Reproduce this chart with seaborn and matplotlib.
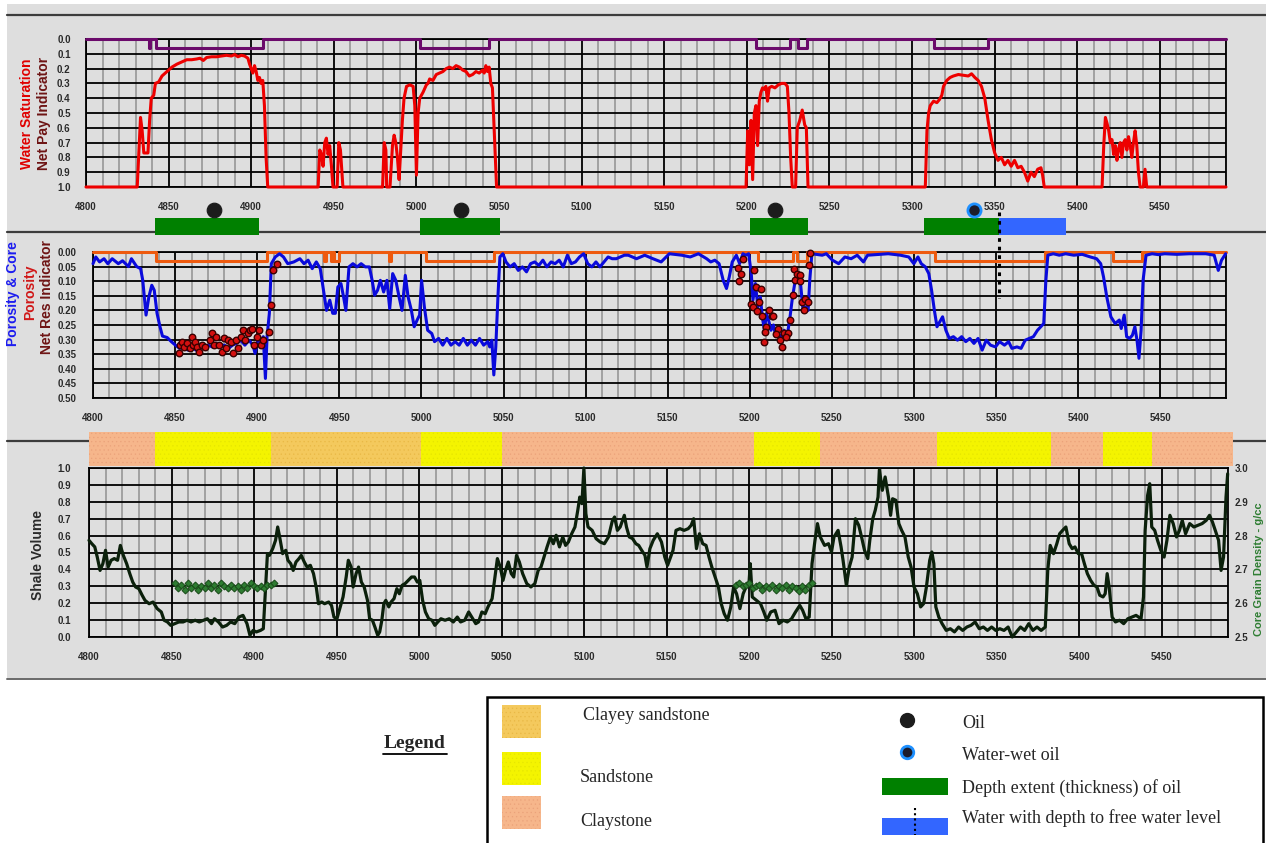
import matplotlib
matplotlib.use("Agg")
import matplotlib.pyplot as plt
import seaborn as sns
from matplotlib.patches import Rectangle
from matplotlib.ticker import MultipleLocator, FormatStrFormatter

sns.set_style("white")
plt.rcParams['font.family'] = ['Liberation Sans', 'DejaVu Sans']
plt.rcParams['hatch.linewidth'] = 0.4

# ---------------- data ----------------
# water saturation (track 1)
sw_depth = [4800, 4831, 4833, 4834, 4835, 4837.5, 4838.5, 4839.5, 4841, 4842, 4844, 4846, 4848, 4850,
            4852, 4855, 4858, 4861, 4864, 4867, 4869, 4871, 4873, 4876, 4879, 4882, 4885, 4888, 4890,
            4892, 4894, 4896, 4898, 4899, 4900, 4901, 4902, 4903, 4904, 4905, 4906, 4907, 4908, 4909,
            4910, 4940.5, 4941.5, 4942.5, 4943.5, 4944.5, 4945.5, 4946.5, 4947.5, 4948.5, 4949.5,
            4952, 4953, 4954, 4955.5, 4979.5, 4980.5, 4981.5, 4982, 4984, 4985.5, 4986.5, 4987.5,
            4988.5, 4989.5, 4990.5, 4991.5, 4992.5, 4994, 4996, 4998, 4999, 5000, 5001, 5002, 5004,
            5006, 5007, 5008, 5010, 5012, 5014, 5016, 5018, 5020, 5022, 5024, 5026, 5028, 5030, 5032,
            5034, 5036, 5038, 5040, 5041, 5042, 5043, 5044, 5045, 5046, 5047, 5048.5, 5199.5, 5200.5,
            5201.5, 5202.5, 5203.5, 5204.5, 5205.5, 5206.5, 5207.5, 5208.5, 5209.5, 5210.5, 5211.5,
            5212.5, 5213.5, 5215, 5217, 5219, 5221, 5223, 5224.5, 5225.5, 5226.5, 5227.5, 5229.5,
            5230.5, 5232, 5233.5, 5235, 5236, 5237, 5308, 5309, 5310, 5311, 5313, 5315, 5316.5, 5318,
            5319, 5321, 5323, 5325, 5328, 5331, 5334, 5336, 5338, 5340, 5342, 5344, 5346, 5348, 5350,
            5352, 5354, 5356, 5358, 5360, 5362, 5364, 5366, 5368, 5370, 5372, 5374, 5376, 5378, 5379,
            5380, 5415, 5416, 5417, 5418, 5419, 5420, 5421, 5422, 5423, 5424, 5425, 5426, 5427, 5428,
            5429, 5430, 5431, 5432, 5433, 5434, 5435, 5436, 5437, 5438, 5440, 5441, 5442, 5490]
sw_value = [1.0, 1.0, 0.53, 0.62, 0.77, 0.77, 0.55, 0.40, 0.38, 0.30, 0.29, 0.25, 0.23, 0.21,
            0.19, 0.17, 0.155, 0.14, 0.14, 0.135, 0.13, 0.145, 0.125, 0.12, 0.12, 0.115, 0.11, 0.115, 0.105,
            0.12, 0.11, 0.115, 0.13, 0.17, 0.2, 0.23, 0.18, 0.22, 0.28, 0.26, 0.3, 0.28, 0.45, 0.8,
            1.0, 1.0, 0.75, 0.78, 0.86, 0.7, 0.67, 0.78, 0.72, 0.85, 1.0,
            1.0, 0.7, 0.75, 1.0, 1.0, 0.7, 0.75, 1.0, 1.0, 0.72, 0.65, 0.7,
            0.8, 0.95, 0.75, 0.55, 0.4, 0.32, 0.31, 0.32, 0.45, 0.92, 0.5, 0.4, 0.36,
            0.31, 0.3, 0.27, 0.28, 0.24, 0.23, 0.22, 0.2, 0.19, 0.2, 0.18, 0.19, 0.21, 0.22, 0.25,
            0.24, 0.22, 0.23, 0.21, 0.23, 0.18, 0.22, 0.19, 0.3, 0.33, 0.6, 1.0, 1.0, 0.62,
            0.85, 0.55, 0.95, 0.5, 0.45, 0.72, 0.42, 0.36, 0.33, 0.34, 0.32,
            0.42, 0.33, 0.32, 0.33, 0.31, 0.3, 0.3, 0.32, 0.5, 0.8, 1.0, 1.0,
            0.6, 0.55, 0.48, 0.58, 0.6, 1.0, 1.0, 0.62, 0.5, 0.45, 0.42, 0.43, 0.41, 0.38,
            0.32, 0.28, 0.26, 0.25, 0.24, 0.245, 0.25, 0.235, 0.26, 0.28, 0.32, 0.4, 0.55, 0.68, 0.77,
            0.82, 0.8, 0.85, 0.82, 0.86, 0.82, 0.87, 0.86, 0.9, 0.96, 0.9, 0.93, 0.88, 0.87, 0.92,
            1.0, 1.0, 0.72, 0.53, 0.57, 0.62, 0.7, 0.68, 0.78, 0.72, 0.82, 0.74, 0.7, 0.8, 0.7,
            0.68, 0.75, 0.66, 0.72, 0.8, 0.7, 0.62, 0.72, 0.9, 1.0, 1.0, 0.88, 1.0, 1.0]

# net pay / net reservoir flag intervals (top, base)
net_pay_zones = [(4838, 4839), (4842.5, 4907), (5002, 5044), (5205.5, 5226), (5231, 5236.5), (5313.5, 5346)]
net_pay_level = 0.06
net_res_zones = [(4838.6, 4906), (4940.5, 4942), (4945, 4946), (4947, 4950), (4980.5, 4981.5),
                 (5003, 5044), (5205, 5226.5), (5228.5, 5235), (5313, 5380), (5421, 5439)]
net_res_level = 0.03

# oil shows, thickness and free water level
oil_depth = [4877.6, 5027, 5217]
water_wet_oil_depth = [5337.5]
oil_extent = [(4842, 4905), (5002, 5050.5), (5202, 5237), (5307.5, 5352.5)]
water_extent = [(5352.5, 5393)]
fwl_depth = 5352.5

# porosity (track 2)
phi_depth = [4800, 4801.7, 4804, 4806.7, 4809, 4811.7, 4815.4, 4818, 4821.6, 4823.4, 4826.6, 4829,
             4830.3, 4832.3, 4834, 4835.8, 4837.3, 4839, 4840.8, 4842.3, 4845.2, 4847.7, 4850.2,
             4852.7, 4855.2, 4857.7, 4860.2, 4862.6, 4865, 4867.6, 4870, 4872.6, 4875, 4877.6, 4880,
             4882.5, 4885, 4887.5, 4890, 4892.5, 4895, 4897.4, 4898.7, 4900.4, 4902.4, 4903.7, 4905,
             4906, 4907.4, 4908.6, 4911, 4913.6, 4916, 4918.6, 4922.3, 4926, 4928.5, 4931, 4933.5,
             4936, 4938.4, 4941, 4942.2, 4944.2, 4946, 4947.6, 4949.1, 4951, 4952.6, 4954, 4955.9,
             4958.3, 4960.8, 4963.3, 4965.8, 4968.3, 4970, 4971.5, 4973.3, 4975, 4977, 4979, 4980.7,
             4982.5, 4984.4, 4986.4, 4988.2, 4990.2, 4991.9, 4993.9, 4995.6, 4997.4, 4998.9, 5000.1,
             5001.8, 5003.8, 5006.3, 5008, 5010.5, 5013, 5015.5, 5018, 5020.5, 5023, 5025.5, 5028,
             5030.4, 5032.9, 5035.4, 5037.9, 5040.4, 5041.6, 5042.9, 5044.1, 5045.3, 5046.6, 5047.8,
             5049.6, 5051.5, 5054, 5056.5, 5059, 5061.5, 5064, 5066.5, 5069, 5071.5, 5074, 5076.4,
             5079, 5081.4, 5083.9, 5086.4, 5088.9, 5091.3, 5093.8, 5096.3, 5098.8, 5101.3, 5103.8,
             5106.3, 5108.7, 5111.2, 5113.7, 5116.2, 5118.7, 5123.6, 5126, 5131, 5136, 5141, 5146,
             5151, 5158.6, 5163.7, 5168.7, 5173.7, 5176.2, 5178.7, 5181.3, 5183.8, 5185.8, 5187.5,
             5189.3, 5191.8, 5193.8, 5195.8, 5197.6, 5199.3, 5200.9, 5201.9, 5203.4, 5204.9, 5206.4,
             5207.6, 5208.9, 5210.1, 5211.4, 5212.9, 5214.4, 5215.9, 5217.7, 5219.4, 5220.9, 5222.7,
             5224.5, 5226, 5227.7, 5229.5, 5231, 5232.5, 5234, 5235.5, 5236.5, 5237.8, 5240.3, 5244.1,
             5246.6, 5250.3, 5254.1, 5257.9, 5261.7, 5265.4, 5269.2, 5271.7, 5276.7, 5284.3, 5291.8,
             5296.8, 5299.9, 5302.4, 5304.4, 5306.9, 5309, 5310.7, 5312.4, 5314, 5315.7, 5317.4,
             5319.4, 5321.5, 5324, 5326.5, 5329, 5331.5, 5334, 5336.5, 5339, 5341.5, 5344, 5346.6,
             5349.6, 5352.1, 5355.1, 5357.6, 5359.6, 5362.7, 5365.2, 5367.7, 5370.2, 5372.7, 5375.2,
             5377.2, 5379, 5380.3, 5381.5, 5384.8, 5388.5, 5392.3, 5397.3, 5402.4, 5407.4, 5411.2,
             5413.7, 5415.4, 5417.4, 5419.9, 5422.5, 5425, 5426.2, 5428, 5429.5, 5431.3, 5433, 5434.5,
             5435.8, 5437, 5438.3, 5439.5, 5441.3, 5445, 5448.8, 5452.6, 5460.1, 5467.7, 5477.7,
             5482.8, 5485.3, 5487.3, 5489.8]
phi_value = [0.04, 0.017, 0.034, 0.023, 0.04, 0.023, 0.04, 0.03, 0.05, 0.023, 0.05, 0.057,
             0.097, 0.216, 0.154, 0.114, 0.131, 0.21, 0.256, 0.288, 0.293, 0.307, 0.319,
             0.33, 0.325, 0.336, 0.325, 0.336, 0.319, 0.33, 0.319, 0.325, 0.313, 0.325, 0.319,
             0.33, 0.319, 0.313, 0.302, 0.319, 0.302, 0.319, 0.347, 0.302, 0.307, 0.29, 0.433,
             0.29, 0.21, 0.04, 0.017, 0.006, 0.017, 0.04, 0.034, 0.023, 0.04, 0.028, 0.057,
             0.034, 0.057, 0.154, 0.2, 0.165, 0.21, 0.21, 0.12, 0.108, 0.154, 0.2, 0.051,
             0.04, 0.051, 0.04, 0.051, 0.051, 0.097, 0.148, 0.131, 0.097, 0.137, 0.097, 0.194,
             0.074, 0.097, 0.154, 0.2, 0.08, 0.154, 0.2, 0.256, 0.233, 0.216, 0.097,
             0.188, 0.268, 0.279, 0.307, 0.296, 0.319, 0.296, 0.319, 0.307, 0.319, 0.296, 0.319,
             0.302, 0.319, 0.296, 0.319, 0.307, 0.325, 0.302, 0.421, 0.325, 0.154, 0.017,
             0.006, 0.034, 0.051, 0.04, 0.063, 0.051, 0.068, 0.04, 0.034, 0.046, 0.028, 0.051,
             0.034, 0.04, 0.028, 0.051, 0.011, 0.04, 0.034, 0.017, 0.006, 0.04, 0.051,
             0.034, 0.051, 0.034, 0.017, 0.023, 0.023, 0.011, 0.011, 0.023, 0.011, 0.023, 0.034,
             0.006, 0.011, 0.017, 0.006, 0.023, 0.034, 0.028, 0.04, 0.097, 0.125, 0.085,
             0.034, 0.011, 0.04, 0.006, 0.011, 0.006, 0.074, 0.165, 0.108, 0.188, 0.154,
             0.222, 0.268, 0.211, 0.233, 0.268, 0.25, 0.29, 0.279, 0.302, 0.268, 0.29,
             0.222, 0.154, 0.097, 0.074, 0.114, 0.205, 0.188, 0.2, 0.097, 0.006, 0.008, 0.011,
             0.006, 0.028, 0.04, 0.017, 0.023, 0.011, 0.034, 0.011, 0.009, 0.006, 0.011,
             0.017, 0.04, 0.017, 0.04, 0.051, 0.074, 0.131, 0.2, 0.256, 0.239, 0.222,
             0.268, 0.296, 0.29, 0.302, 0.29, 0.307, 0.296, 0.313, 0.296, 0.336, 0.302, 0.319,
             0.325, 0.307, 0.319, 0.307, 0.33, 0.325, 0.33, 0.302, 0.296, 0.29, 0.268,
             0.256, 0.245, 0.097, 0.011, 0.006, 0.011, 0.006, 0.011, 0.008, 0.017, 0.023,
             0.04, 0.085, 0.154, 0.222, 0.245, 0.233, 0.262, 0.216, 0.29, 0.296, 0.285, 0.256,
             0.302, 0.364, 0.268, 0.097, 0.011, 0.006, 0.009, 0.006, 0.008, 0.006, 0.006,
             0.011, 0.063, 0.028, 0.006]

# core porosity samples
core_depth = [4852.2, 4852.7, 4854, 4855.7, 4857.2, 4859, 4860.2, 4860.7, 4862.1, 4863.4, 4864.6,
              4866.4, 4868.4, 4871.3, 4872.6, 4873.8, 4875, 4876.8, 4878.3, 4879.5, 4880.8, 4882.5,
              4883.8, 4885.5, 4887, 4888.2, 4890, 4891.2, 4892.5, 4894.2, 4895.7, 4897, 4898.2, 4900,
              4901.2, 4902.4, 4903.7, 4907.4, 4908.4, 4909.4, 4911.9,
              5195.6, 5193.1, 5194.6, 5193.3, 5202.6, 5203.9, 5206.9, 5205.9, 5200.9, 5201.9, 5204.4,
              5207.6, 5211.9, 5213.4, 5214.4, 5210.1, 5209.4, 5208.4, 5216.9, 5215.9, 5218.4, 5219.7,
              5221, 5223.5, 5222.2, 5224.7, 5226, 5227.7, 5227.2, 5229, 5230.3, 5230.7, 5231.5, 5232.8,
              5233.5, 5235.3, 5235.8, 5236.5]
core_phi = [0.347, 0.319, 0.307, 0.325, 0.313, 0.33, 0.29, 0.319, 0.307, 0.325, 0.342,
            0.319, 0.325, 0.302, 0.279, 0.319, 0.29, 0.319, 0.342, 0.296, 0.33, 0.302,
            0.307, 0.347, 0.302, 0.33, 0.29, 0.268, 0.302, 0.279, 0.268, 0.262, 0.319, 0.29,
            0.268, 0.319, 0.302, 0.273, 0.182, 0.063, 0.04,
            0.023, 0.055, 0.074, 0.099, 0.063, 0.12, 0.125, 0.171, 0.177, 0.19, 0.203,
            0.219, 0.2, 0.219, 0.219, 0.256, 0.273, 0.308, 0.262, 0.281, 0.302, 0.325,
            0.279, 0.279, 0.29, 0.233, 0.146, 0.097, 0.057, 0.074, 0.08, 0.099, 0.171, 0.2,
            0.16, 0.171, 0.046, 0.003]

# lithology column
litho_top = [4800, 4840, 4910, 5001, 5050, 5203, 5243, 5313.5, 5382.5, 5414, 5443.7]
litho_base = [4840, 4910, 5001, 5050, 5203, 5243, 5313.5, 5382.5, 5414, 5443.7, 5493]
litho_type = ['Claystone', 'Sandstone', 'Clayey sandstone', 'Sandstone', 'Claystone', 'Sandstone',
              'Claystone', 'Sandstone', 'Claystone', 'Sandstone', 'Claystone']

# shale volume (track 3)
vsh_depth = [4800, 4801.7, 4803.5, 4805, 4806.7, 4808.4, 4810, 4811.6, 4813.4, 4815.3, 4817.3, 4819,
             4820.8, 4822.8, 4824.7, 4826.5, 4828.2, 4830.2, 4832.2, 4833.9, 4836.4, 4838.8, 4841.3,
             4843.8, 4845.5, 4847.5, 4849.5, 4852, 4854.4, 4857, 4859.4, 4861.8, 4864.3, 4866.8,
             4869.3, 4871.7, 4874.2, 4876, 4878.4, 4880.9, 4883.4, 4885.8, 4888.3, 4890.8, 4893.3,
             4895.7, 4897.5, 4899.4, 4901.4, 4903.9, 4905.6, 4906.9, 4908.1, 4909.3, 4911.3, 4913,
             4914.3, 4915.5, 4917.3, 4919.2, 4920.5, 4922.2, 4923.7, 4925.4, 4927.2, 4928.6, 4930.4,
             4932.1, 4934.1, 4936, 4937.8, 4939, 4941, 4942.7, 4945.2, 4946.9, 4948.4, 4950.2, 4951.9,
             4953.9, 4955.8, 4957.1, 4958.8, 4960, 4961.8, 4963.3, 4965, 4966.7, 4968.7, 4970, 4971.7,
             4973.2, 4974.9, 4976.1, 4977.4, 4978.6, 4979.8, 4981.6, 4983, 4984.8, 4986.5, 4988,
             4989.7, 4991.5, 4993.4, 4995.4, 4997.2, 4998.9, 5000.4, 5002.1, 5003.8, 5005.8, 5007.8,
             5009.5, 5011.3, 5013.2, 5015.7, 5018.2, 5020.7, 5023.1, 5025.1, 5027.6, 5030, 5032.5,
             5034.3, 5036, 5038, 5040, 5041.7, 5044.2, 5045.9, 5047.4, 5049.1, 5050.8, 5052.3, 5054,
             5055.8, 5057.3, 5059, 5060.7, 5062.7, 5065.2, 5067.7, 5070.1, 5072.1, 5073.8, 5075.6,
             5077.5, 5079.5, 5081.3, 5083, 5085, 5087, 5088.7, 5090.4, 5092.4, 5094.4, 5096.1, 5097.3,
             5098.6, 5099.8, 5101, 5102.3, 5104.8, 5107.2, 5109.7, 5112.2, 5114.7, 5117.1, 5118.4,
             5120.1, 5121.8, 5124.3, 5125.6, 5127.3, 5129.3, 5131.3, 5133, 5134.8, 5136.8, 5138,
             5139.8, 5141.8, 5144.3, 5146.8, 5148.8, 5150.5, 5152.3, 5153.8, 5155.6, 5158, 5160.5,
             5163, 5164.8, 5166.3, 5168, 5169.8, 5171.8, 5173.8, 5175.6, 5177.3, 5179.3, 5181.3, 5183,
             5184.8, 5186.8, 5188.8, 5190.5, 5192.3, 5194.3, 5196.3, 5198, 5199.8, 5200.6, 5201.8,
             5204.3, 5206.8, 5208.8, 5210.6, 5213, 5215.6, 5218, 5220.6, 5223, 5225.6, 5228, 5230.6,
             5232.3, 5234.3, 5236.3, 5238, 5239.8, 5241.3, 5243, 5245.6, 5248, 5249.8, 5251.3, 5253.8,
             5255.6, 5256.8, 5258.8, 5260.6, 5262.3, 5264.3, 5266.3, 5268, 5269.8, 5271.8, 5273,
             5274.8, 5276.3, 5278, 5278.8, 5280.6, 5282.3, 5284.3, 5285.6, 5286.8, 5288.8, 5290.6,
             5292.3, 5294.3, 5296.3, 5298, 5299.8, 5301.8, 5303.8, 5305.6, 5307.3, 5309.3, 5310.6,
             5311.8, 5313, 5314.8, 5316.8, 5319.3, 5321.8, 5324.3, 5326.8, 5329.3, 5331.8, 5334.3,
             5336.8, 5339.3, 5341.8, 5344.3, 5346.8, 5349.3, 5351.8, 5354.3, 5356.8, 5359.3, 5361.8,
             5364.3, 5366.8, 5369.3, 5371.8, 5374.3, 5376.8, 5379.3, 5380.8, 5382.3, 5384.3, 5386.3,
             5388, 5389.8, 5391.8, 5393.8, 5395.6, 5397.3, 5399.3, 5401.3, 5403, 5404.8, 5406.8,
             5408.8, 5410.6, 5412.3, 5414.3, 5415.6, 5416.8, 5418, 5419.8, 5421.8, 5424.3, 5426.8,
             5429.3, 5431.8, 5434.3, 5437.3, 5438.8, 5439.8, 5441.3, 5442.6, 5443.8, 5445.6, 5447.3,
             5449.3, 5451.3, 5453, 5454.8, 5456.8, 5458.8, 5460.6, 5462.3, 5464.3, 5466.8, 5469.3,
             5471.8, 5474.3, 5476.8, 5478.8, 5480.6, 5482.3, 5484.3, 5485.8, 5487.3, 5488.8, 5489.8]
vsh_value = [0.572, 0.552, 0.533, 0.473, 0.394, 0.434, 0.513, 0.414, 0.454, 0.464, 0.454, 0.542,
             0.483, 0.434, 0.375, 0.325, 0.296, 0.286, 0.247, 0.217, 0.197, 0.207, 0.168,
             0.148, 0.099, 0.089, 0.069, 0.079, 0.089, 0.089, 0.099, 0.089, 0.099, 0.089,
             0.099, 0.108, 0.079, 0.108, 0.089, 0.059, 0.069, 0.089, 0.079, 0.118, 0.128,
             0.079, 0.01, 0.039, 0.03, 0.039, 0.049, 0.276, 0.493, 0.483, 0.523, 0.572,
             0.651, 0.592, 0.493, 0.513, 0.454, 0.434, 0.394, 0.444, 0.464, 0.483, 0.444,
             0.414, 0.424, 0.375, 0.286, 0.197, 0.207, 0.197, 0.207, 0.187, 0.118, 0.108, 0.168,
             0.237, 0.355, 0.454, 0.414, 0.296, 0.375, 0.414, 0.325, 0.296, 0.217, 0.108, 0.099,
             0.059, 0.01, 0.03, 0.099, 0.197, 0.217, 0.178, 0.207, 0.227, 0.286, 0.256,
             0.306, 0.316, 0.335, 0.355, 0.355, 0.325, 0.335, 0.217, 0.148, 0.108, 0.099,
             0.069, 0.089, 0.108, 0.099, 0.108, 0.089, 0.118, 0.089, 0.099, 0.148, 0.108,
             0.079, 0.089, 0.148, 0.138, 0.178, 0.227, 0.355, 0.464, 0.414, 0.335, 0.394, 0.444,
             0.375, 0.355, 0.483, 0.444, 0.375, 0.316, 0.296, 0.316, 0.394, 0.414, 0.473,
             0.533, 0.592, 0.552, 0.602, 0.533, 0.592, 0.542, 0.562, 0.611, 0.651, 0.75, 0.828,
             0.789, 1.0, 0.73, 0.651, 0.631, 0.582, 0.562, 0.552, 0.592, 0.69, 0.71,
             0.631, 0.651, 0.72, 0.651, 0.592, 0.582, 0.552, 0.542, 0.513, 0.483, 0.414,
             0.523, 0.572, 0.611, 0.562, 0.473, 0.424, 0.473, 0.513, 0.631, 0.641, 0.631,
             0.641, 0.661, 0.7, 0.523, 0.611, 0.552, 0.542, 0.473, 0.414, 0.355, 0.296, 0.197,
             0.138, 0.099, 0.178, 0.296, 0.256, 0.168, 0.256, 0.296, 0.316, 0.434, 0.237,
             0.217, 0.197, 0.148, 0.099, 0.148, 0.158, 0.079, 0.099, 0.089, 0.108, 0.148, 0.187,
             0.158, 0.108, 0.118, 0.434, 0.572, 0.671, 0.592, 0.542, 0.552, 0.503, 0.592, 0.631,
             0.533, 0.454, 0.306, 0.414, 0.473, 0.7, 0.661, 0.592, 0.513, 0.464, 0.572,
             0.7, 0.75, 0.828, 0.99, 0.868, 0.947, 0.828, 0.72, 0.818, 0.809, 0.671,
             0.631, 0.592, 0.473, 0.414, 0.296, 0.256, 0.178, 0.197, 0.296, 0.454, 0.503,
             0.434, 0.178, 0.118, 0.079, 0.039, 0.049, 0.03, 0.059, 0.039, 0.059, 0.069,
             0.089, 0.049, 0.059, 0.039, 0.059, 0.039, 0.049, 0.039, 0.059, 0.0, 0.03,
             0.059, 0.039, 0.079, 0.039, 0.059, 0.039, 0.059, 0.394, 0.542, 0.493, 0.552,
             0.611, 0.631, 0.651, 0.552, 0.523, 0.533, 0.493, 0.493, 0.434, 0.375, 0.335,
             0.306, 0.296, 0.247, 0.237, 0.256, 0.375, 0.296, 0.118, 0.089, 0.099, 0.079,
             0.108, 0.118, 0.128, 0.108, 0.237, 0.631, 0.838, 0.907, 0.651, 0.631, 0.572,
             0.513, 0.473, 0.572, 0.72, 0.671, 0.592, 0.631, 0.69, 0.611, 0.671, 0.651,
             0.661, 0.671, 0.69, 0.72, 0.68, 0.631, 0.572, 0.394, 0.473, 0.828, 0.966]

# core grain density (right axis of track 3)
rhog_depth = [4852, 4854, 4856, 4858, 4860, 4862, 4864, 4866, 4868, 4870, 4872, 4874, 4876, 4878,
              4880, 4882, 4884, 4886, 4888, 4890, 4892, 4894, 4896, 4898, 4900, 4902, 4904, 4906,
              4908, 4910, 4912,
              5192, 5194, 5196, 5198, 5200, 5202, 5204, 5206, 5208, 5210, 5212, 5214, 5216, 5218,
              5220, 5222, 5224, 5226, 5228, 5230, 5232, 5234, 5236, 5238]
rhog_value = [2.66, 2.645, 2.655, 2.64, 2.66, 2.645, 2.655, 2.64, 2.65, 2.645, 2.66, 2.645, 2.655, 2.64,
              2.66, 2.65, 2.645, 2.655, 2.645, 2.65, 2.64, 2.655, 2.645, 2.66, 2.65, 2.645, 2.65, 2.645,
              2.655, 2.655, 2.66,
              2.655, 2.66, 2.65, 2.655, 2.66, 2.645, 2.65, 2.655, 2.64, 2.65, 2.645, 2.655, 2.64, 2.65,
              2.645, 2.655, 2.64, 2.65, 2.645, 2.635, 2.65, 2.64, 2.655, 2.66]

litho_colors = {'Clayey sandstone': '#f4c95d', 'Sandstone': '#f4f400', 'Claystone': '#f6b68b'}
litho_hatch = {'Clayey sandstone': '#e9b845', 'Sandstone': '#e6e600', 'Claystone': '#eba27a'}

# ---------------- figure ----------------
W, H = 1266, 843
fig = plt.figure(figsize=(W / 100, H / 100), dpi=100)

bg = fig.add_axes([0, 0, 1, 1])
bg.set_xlim(0, W)
bg.set_ylim(H, 0)
bg.axis('off')
bg.set_zorder(0)
bg.add_patch(Rectangle((7, 4), W - 7, 676, fc='#dedede', ec='none'))
for yy in (15, 232, 441):
    bg.plot([7, W], [yy, yy], color='#3c3c3c', lw=1.6)
bg.plot([7, W], [679, 679], color='#6a6a6a', lw=1.4)


def px_axes(left, right, top, bottom):
    a = fig.add_axes([left / W, 1 - bottom / H, (right - left) / W, (bottom - top) / H])
    a.set_facecolor('none')
    a.set_zorder(2)
    return a


def style_track(ax, ystep, yfmt, ylim, ypad=11):
    ax.set_xlim(4800, 5490)
    ax.set_ylim(*ylim)
    ax.xaxis.set_major_locator(MultipleLocator(50))
    ax.xaxis.set_minor_locator(MultipleLocator(10))
    ax.yaxis.set_major_locator(MultipleLocator(ystep))
    ax.yaxis.set_major_formatter(FormatStrFormatter(yfmt))
    ax.grid(which='minor', axis='x', color='#9c9c9c', lw=1.3)
    ax.grid(which='major', axis='x', color='black', lw=1.3)
    ax.grid(which='major', axis='y', color='black', lw=1.3)
    ax.set_axisbelow(True)
    ax.tick_params(axis='x', which='both', length=0, pad=11, labelsize=7, labelcolor='#2a2a2a')
    ax.tick_params(axis='y', which='both', length=0, pad=ypad, labelsize=7, labelcolor='#2a2a2a')
    for lbl in ax.get_xticklabels() + ax.get_yticklabels():
        lbl.set_fontweight('bold')
    for s in ax.spines.values():
        s.set_color('black')
        s.set_linewidth(1.3)
    ax.set_xlabel('')
    ax.set_ylabel('')


def step_xy(zones, level):
    xs, ys = [4800], [0]
    for t, b in zones:
        xs += [t, t, b, b]
        ys += [0, level, level, 0]
    xs.append(5490)
    ys.append(0)
    return xs, ys


# ---- track 1: water saturation / net pay
ax1 = px_axes(86, 1226, 39, 187)
sns.lineplot(x=sw_depth, y=sw_value, ax=ax1, color='#ee0000', lw=2.2, estimator=None, sort=False,
             clip_on=False, zorder=3)
px, py = step_xy(net_pay_zones, net_pay_level)
sns.lineplot(x=px, y=py, ax=ax1, color='#6b0a6b', lw=2.2, estimator=None, sort=False,
             clip_on=False, zorder=4)
style_track(ax1, 0.1, '%.1f', (1.0, 0.0))

# oil shows strip under track 1
strip = px_axes(86, 1226, 200, 240)
strip.set_xlim(4800, 5490)
strip.set_ylim(0, 1)
strip.axis('off')
for t, b in oil_extent:
    strip.axvspan(t, b, ymin=0.125, ymax=0.55, color='#008000', lw=0)
for t, b in water_extent:
    strip.axvspan(t, b, ymin=0.125, ymax=0.55, color='#3366ff', lw=0)
sns.scatterplot(x=oil_depth, y=[0.75] * len(oil_depth), ax=strip, color='#1c1c1c', s=110,
                marker='o', edgecolor='#1c1c1c', zorder=5)
sns.scatterplot(x=water_wet_oil_depth, y=[0.75] * len(water_wet_oil_depth), ax=strip,
                color='#1c1c2c', s=90, marker='o', edgecolor='#1e90ff', linewidth=2, zorder=5)
strip.plot([fwl_depth, fwl_depth], [0.7, -1.45], color='black', lw=2.2, ls=(0, (1.2, 1.6)),
           clip_on=False, zorder=6)

# ---- track 2: porosity / net reservoir
ax2 = px_axes(93, 1226, 252, 398)
rx, ry = step_xy(net_res_zones, net_res_level)
sns.lineplot(x=rx, y=ry, ax=ax2, color='#ee5a0e', lw=2.2, estimator=None, sort=False,
             clip_on=False, zorder=3)
sns.lineplot(x=phi_depth, y=phi_value, ax=ax2, color='#0a0adc', lw=2.2, estimator=None, sort=False,
             clip_on=False, zorder=4)
sns.scatterplot(x=core_depth, y=core_phi, ax=ax2, color='#d41010', edgecolor='#3a0000', s=22,
                linewidth=1.0, zorder=5, clip_on=False)
style_track(ax2, 0.05, '%.2f', (0.5, 0.0), ypad=12)

# ---- lithology column
axl = px_axes(89, 1228, 432, 466)
axl.set_xlim(4800, 5490)
axl.set_ylim(0, 1)
axl.axis('off')
for t, b, k in zip(litho_top, litho_base, litho_type):
    axl.add_patch(Rectangle((t, 0), b - t, 1, fc=litho_colors[k], ec=litho_hatch[k], lw=0,
                            hatch='....', clip_on=False))

# ---- track 3: shale volume / grain density
ax3 = px_axes(89, 1228, 468, 637)
sns.lineplot(x=vsh_depth, y=vsh_value, ax=ax3, color='#0b200b', lw=2.3, estimator=None, sort=False,
             clip_on=False, zorder=4)
style_track(ax3, 0.1, '%.1f', (0.0, 1.0), ypad=13)
ax3r = ax3.twinx()
ax3r.set_zorder(3)
ax3r.set_facecolor('none')
sns.lineplot(x=rhog_depth[:31], y=rhog_value[:31], ax=ax3r, color='#2e7d32', lw=1.2, marker='D',
             markersize=3.5, markeredgecolor='#1b4d1b', estimator=None, sort=False, zorder=3)
sns.lineplot(x=rhog_depth[31:], y=rhog_value[31:], ax=ax3r, color='#2e7d32', lw=1.2, marker='D',
             markersize=3.5, markeredgecolor='#1b4d1b', estimator=None, sort=False, zorder=3)
ax3r.set_ylim(2.5, 3.0)
ax3r.set_xlim(4800, 5490)
ax3r.yaxis.set_major_locator(MultipleLocator(0.1))
ax3r.yaxis.set_major_formatter(FormatStrFormatter('%.1f'))
ax3r.tick_params(axis='y', length=0, pad=5, labelsize=7, labelcolor='#2a2a2a')
for lbl in ax3r.get_yticklabels():
    lbl.set_fontweight('bold')
ax3r.set_ylabel('')
for s in ax3r.spines.values():
    s.set_visible(False)

# ---- track labels
lab = dict(rotation=90, ha='center', va='center', fontsize=10, fontweight='bold')
bg.text(27, 114, 'Water Saturation', color='#e00000', **lab)
bg.text(44, 113, 'Net Pay Indicator', color='#6e1414', **lab)
bg.text(13, 294, 'Porosity & Core', color='#1c1cf0', **lab)
bg.text(30, 292, 'Porosity', color='#d01818', **lab)
bg.text(47, 297, 'Net Res Indicator', color='#6e1414', **lab)
bg.text(38, 555, 'Shale Volume', color='#2a2a2a', **lab)
bg.text(1259.5, 636, 'Core Grain Density - g/cc', color='#2e7d32', rotation=90, rotation_mode='anchor',
        ha='left', va='center', fontsize=8, fontweight='bold')

# ---- legend
serif = ['Liberation Serif', 'DejaVu Serif']
bg.add_patch(Rectangle((487, 697), 776, 160, fc='white', ec='black', lw=1.8, clip_on=False))
bg.text(415, 744, 'Legend', family=serif, fontsize=14, fontweight='bold', ha='center', va='center')
bg.plot([383, 447], [754, 754], color='black', lw=1.3)
for k, y0 in (('Clayey sandstone', 705), ('Sandstone', 752), ('Claystone', 796)):
    bg.add_patch(Rectangle((502, y0), 39, 33, fc=litho_colors[k], ec=litho_hatch[k], lw=0, hatch='....'))
leg = dict(family=serif, fontsize=13, va='center')
bg.text(583, 716, 'Clayey sandstone', **leg)
bg.text(580, 778, 'Sandstone', **leg)
bg.text(580, 821, 'Claystone', **leg)
bg.plot([907], [720], 'o', color='#1c1c1c', markersize=10)
bg.plot([907], [752], 'o', color='#1c1c2c', markersize=9, markeredgecolor='#1e90ff', markeredgewidth=2)
bg.add_patch(Rectangle((882, 778), 66, 17, fc='#008000', ec='none'))
bg.add_patch(Rectangle((882, 818), 66, 17, fc='#3366ff', ec='none'))
bg.plot([915, 915], [808, 835], color='black', lw=1.5, ls=(0, (1, 1.5)))
bg.text(962, 723, 'Oil', **leg)
bg.text(962, 756, 'Water-wet oil', **leg)
bg.text(962, 788, 'Depth extent (thickness) of oil', **leg)
bg.text(962, 818, 'Water with depth to free water level', **leg)

fig.savefig('out.png', dpi=100)
